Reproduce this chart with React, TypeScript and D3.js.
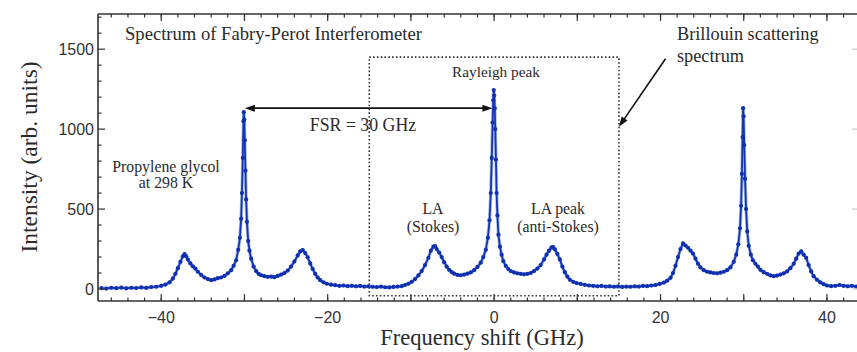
import React from "react";
import * as d3 from "d3";

// Spectrum: [frequency shift (GHz), intensity (arb. units)]
const spectrum: [number, number][] = [
  [-47.2, 6], [-46.6, 3], [-46.0, 8], [-45.4, 5], [-44.8, 9], [-44.2, 4], [-43.6, 8], [-43.0, 6],
  [-42.4, 10], [-41.8, 7], [-41.2, 12], [-40.6, 14], [-40.0, 20], [-39.5, 28], [-39.0, 42],
  [-38.6, 65], [-38.3, 95], [-38.0, 130], [-37.7, 170], [-37.4, 205], [-37.2, 218], [-37.0, 205],
  [-36.8, 184], [-36.5, 160], [-36.2, 142], [-35.9, 128], [-35.6, 108], [-35.2, 88], [-34.8, 72],
  [-34.4, 62], [-34.0, 55], [-33.6, 60], [-33.2, 68], [-32.8, 72], [-32.4, 82], [-32.0, 98],
  [-31.6, 118], [-31.3, 145], [-31.0, 180], [-30.75, 245], [-30.55, 320], [-30.4, 440],
  [-30.3, 600], [-30.2, 820], [-30.12, 1050], [-30.08, 1106], [-30.02, 1060], [-29.96, 930],
  [-29.88, 740], [-29.8, 560], [-29.7, 420], [-29.55, 300], [-29.4, 240], [-29.2, 190],
  [-28.9, 140], [-28.6, 112], [-28.3, 95], [-28.0, 86], [-27.6, 80], [-27.2, 76], [-26.8, 78],
  [-26.4, 74], [-26.0, 82], [-25.6, 90], [-25.2, 100], [-24.8, 115], [-24.4, 140], [-24.0, 172],
  [-23.6, 210], [-23.3, 235], [-23.0, 244], [-22.7, 225], [-22.4, 198], [-22.1, 160],
  [-21.8, 125], [-21.5, 95], [-21.2, 72], [-20.9, 55], [-20.5, 42], [-20.1, 33], [-19.6, 27],
  [-19.1, 24], [-18.6, 20], [-18.1, 22], [-17.6, 18], [-17.1, 20], [-16.6, 17], [-16.1, 19],
  [-15.6, 15], [-15.1, 17], [-14.6, 14], [-14.1, 12], [-13.6, 15], [-13.1, 11], [-12.6, 10],
  [-12.1, 13], [-11.6, 15], [-11.1, 18], [-10.7, 25], [-10.3, 33], [-9.9, 45], [-9.5, 62],
  [-9.1, 85], [-8.7, 112], [-8.3, 150], [-7.9, 195], [-7.6, 240], [-7.3, 265], [-7.1, 268],
  [-6.9, 250], [-6.6, 228], [-6.3, 200], [-6.0, 168], [-5.7, 140], [-5.4, 120], [-5.1, 106],
  [-4.8, 96], [-4.4, 88], [-4.0, 86], [-3.6, 90], [-3.2, 96], [-2.8, 104], [-2.4, 118],
  [-2.0, 138], [-1.6, 165], [-1.3, 200], [-1.0, 245], [-0.75, 320], [-0.55, 430], [-0.4, 600],
  [-0.28, 820], [-0.18, 1040], [-0.1, 1180], [-0.04, 1244], [0.02, 1210], [0.08, 1130],
  [0.14, 1000], [0.22, 810], [0.3, 600], [0.4, 460], [0.52, 340], [0.7, 265], [0.9, 215],
  [1.1, 175], [1.4, 145], [1.7, 125], [2.0, 112], [2.4, 104], [2.8, 98], [3.2, 95], [3.6, 92],
  [4.0, 95], [4.4, 100], [4.8, 112], [5.2, 128], [5.6, 150], [6.0, 185], [6.3, 215], [6.6, 240],
  [6.9, 260], [7.1, 262], [7.3, 248], [7.6, 220], [7.9, 185], [8.2, 140], [8.5, 105], [8.8, 78],
  [9.1, 58], [9.5, 45], [9.9, 37], [10.4, 32], [10.9, 26], [11.4, 22], [11.9, 20], [12.4, 17],
  [12.9, 19], [13.4, 15], [13.9, 17], [14.4, 14], [14.9, 16], [15.4, 13], [15.9, 15], [16.4, 14],
  [16.9, 17], [17.4, 15], [17.9, 19], [18.4, 18], [18.9, 22], [19.4, 25], [19.9, 32], [20.4, 40],
  [20.8, 52], [21.2, 70], [21.5, 100], [21.8, 145], [22.1, 200], [22.4, 250], [22.7, 285],
  [23.0, 272], [23.3, 258], [23.6, 240], [23.9, 222], [24.2, 190], [24.5, 158], [24.8, 135],
  [25.2, 118], [25.6, 108], [26.0, 104], [26.4, 100], [26.8, 98], [27.2, 102], [27.6, 108],
  [28.0, 118], [28.4, 135], [28.8, 170], [29.1, 215], [29.35, 280], [29.55, 380], [29.68, 520],
  [29.78, 720], [29.86, 950], [29.92, 1131], [29.98, 1080], [30.06, 900], [30.16, 690],
  [30.28, 500], [30.42, 360], [30.6, 270], [30.85, 215], [31.1, 180], [31.4, 158], [31.7, 140],
  [32.0, 120], [32.4, 105], [32.8, 95], [33.2, 85], [33.6, 80], [34.0, 84], [34.4, 90],
  [34.8, 98], [35.2, 110], [35.6, 130], [36.0, 158], [36.3, 190], [36.6, 222], [36.9, 235],
  [37.2, 215], [37.5, 195], [37.8, 150], [38.1, 110], [38.4, 80], [38.8, 58], [39.2, 42],
  [39.6, 30], [40.0, 22], [40.5, 18], [41.0, 20], [41.5, 25], [42.0, 20], [42.5, 17], [43.0, 20],
  [43.5, 15], [44.0, 17], [44.5, 14],
];

const xLabelTicks = [-40, -20, 0, 20, 40];
const yLabelTicks = [0, 500, 1000, 1500];

const W = 857;
const H = 352;
const left = 98, right = 859, top = 14, bottom = 301;

export default function App() {
  const x = d3.scaleLinear().domain([-47.6, 43.85]).range([left, right]);
  const y = d3.scaleLinear().domain([-75, 1720]).range([bottom, top]);

  const line = d3
    .line<[number, number]>()
    .x((d) => x(d[0]))
    .y((d) => y(d[1]));

  const xMinor = d3.range(-46, 44, 2);
  const xMajor = [-40, -30, -20, -10, 0, 10, 20, 30, 40];
  const yMinor = d3.range(0, 1701, 100);
  const yMajor = d3.range(0, 1701, 500);

  const axisColor = "#333";
  const serif = "'Liberation Serif', 'Times New Roman', serif";
  const sans = "'Liberation Sans', Arial, sans-serif";
  const textColor = "#2a2a2a";

  // annotation anchors (data coordinates)
  const boxX0 = x(-15), boxX1 = x(15), boxY0 = y(1450), boxY1 = y(-42);
  const fsrY = y(1131);
  const fsrX0 = x(-29.95), fsrX1 = x(-0.2);
  const brA = [x(20.6), y(1440)], brB = [x(15.0), y(1015)];

  const ang = Math.atan2(brB[1] - brA[1], brB[0] - brA[0]);
  const ah = 10, aw = 3.5;
  const arrowHead = (tx: number, ty: number, a: number) => {
    const bx = tx - ah * Math.cos(a), by = ty - ah * Math.sin(a);
    const px = -Math.sin(a) * aw, py = Math.cos(a) * aw;
    return `M${tx},${ty}L${bx + px},${by + py}L${bx - px},${by - py}Z`;
  };

  return (
    <svg
      width={W}
      height={H}
      style={{ position: "absolute", left: 0, top: 0, background: "#fff" }}
    >
      <defs>
        <clipPath id="plot">
          <rect x={left} y={top} width={right - left} height={bottom - top} />
        </clipPath>
      </defs>

      {/* dotted box */}
      <rect
        x={boxX0}
        y={boxY0}
        width={boxX1 - boxX0}
        height={boxY1 - boxY0}
        fill="none"
        stroke="#333"
        strokeWidth={1.6}
        strokeDasharray="1.6,2.2"
      />

      {/* spectrum */}
      <g clipPath="url(#plot)">
        <path d={line(spectrum) || ""} fill="none" stroke="#a9bde2" strokeWidth={3.4} />
        <path d={line(spectrum) || ""} fill="none" stroke="#1534b4" strokeWidth={1.8} />
        {spectrum.map((d, i) => (
          <circle key={i} cx={x(d[0])} cy={y(d[1])} r={2.1} fill="#0f30b0" />
        ))}
      </g>

      {/* frame */}
      <g stroke={axisColor} strokeWidth={1.6} fill="none">
        <line x1={left} x2={W} y1={top} y2={top} />
        <line x1={left} x2={W} y1={bottom} y2={bottom} />
        <line x1={left} x2={left} y1={top} y2={bottom} />
      </g>

      {/* x ticks bottom + top, y ticks left */}
      <g stroke={axisColor} strokeWidth={1.2}>
        {xMinor.map((v) => (
          <g key={v}>
            <line x1={x(v)} x2={x(v)} y1={bottom} y2={bottom - 3.5} />
            <line x1={x(v)} x2={x(v)} y1={top} y2={top + 3.5} />
          </g>
        ))}
        {xMajor.map((v) => (
          <g key={"m" + v}>
            <line x1={x(v)} x2={x(v)} y1={bottom} y2={bottom - 7} />
            <line x1={x(v)} x2={x(v)} y1={top} y2={top + 7} />
          </g>
        ))}
        {yMinor.map((v) => {
          const major = yMajor.includes(v);
          const len = major ? 7 : 3.5;
          return <line key={v} x1={left} x2={left + len} y1={y(v)} y2={y(v)} />;
        })}
      </g>
      <g stroke="#c8c8c8" strokeWidth={1.2}>
        {yMajor.map((v) => (
          <line key={v} x1={right} x2={right - 7} y1={y(v)} y2={y(v)} />
        ))}
      </g>

      {/* tick labels */}
      <g fontFamily={sans} fontSize={16} fill="#333">
        {xLabelTicks.map((v) => (
          <text key={v} x={x(v)} y={bottom + 22} textAnchor="middle">
            {v < 0 ? "\u2212" + Math.abs(v) : String(v)}
          </text>
        ))}
        {yLabelTicks.map((v) => (
          <text key={v} x={left - 4} y={y(v) + 6} textAnchor="end">
            {v}
          </text>
        ))}
      </g>

      {/* axis titles */}
      <text
        x={482}
        y={345}
        textAnchor="middle"
        fontFamily={serif}
        fontSize={22.5}
        fill={textColor}
      >
        Frequency shift (GHz)
      </text>
      <text
        transform={`translate(37,157) rotate(-90)`}
        textAnchor="middle"
        fontFamily={serif}
        fontSize={23.5}
        fill={textColor}
      >
        Intensity (arb. units)
      </text>

      {/* annotations */}
      <g fontFamily={serif} fill={textColor}>
        <text x={125} y={40} fontSize={18.6}>Spectrum of Fabry-Perot Interferometer</text>
        <text x={496} y={77} fontSize={15.3} textAnchor="middle">Rayleigh peak</text>
        <text x={363} y={131} fontSize={17.8} textAnchor="middle">FSR = 30 GHz</text>
        <text x={677} y={40} fontSize={18.3}>Brillouin scattering</text>
        <text x={677} y={62} fontSize={18.3}>spectrum</text>
        <text x={166} y={172} fontSize={15.8} textAnchor="middle">Propylene glycol</text>
        <text x={166} y={188} fontSize={15.8} textAnchor="middle">at 298 K</text>
        <text x={433} y={214} fontSize={15.8} textAnchor="middle">LA</text>
        <text x={433} y={232} fontSize={15.8} textAnchor="middle">(Stokes)</text>
        <text x={558} y={214} fontSize={15.8} textAnchor="middle">LA peak</text>
        <text x={558} y={232} fontSize={15.8} textAnchor="middle">(anti-Stokes)</text>
      </g>

      {/* FSR arrow */}
      <line x1={fsrX0 + 8} x2={fsrX1 - 8} y1={fsrY} y2={fsrY} stroke="#111" strokeWidth={1.6} />
      <path d={arrowHead(fsrX0, fsrY, Math.PI)} fill="#111" />
      <path d={arrowHead(fsrX1, fsrY, 0)} fill="#111" />

      {/* Brillouin arrow */}
      <line
        x1={brA[0]}
        y1={brA[1]}
        x2={brB[0] - 8 * Math.cos(ang)}
        y2={brB[1] - 8 * Math.sin(ang)}
        stroke="#111"
        strokeWidth={1.6}
      />
      <path d={arrowHead(brB[0], brB[1], ang)} fill="#111" />
    </svg>
  );
}
